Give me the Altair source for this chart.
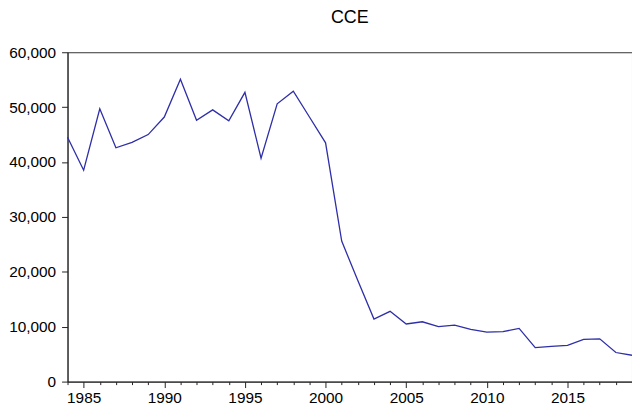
import altair as alt
import pandas as pd

years = list(range(1984, 2020))
cce = [44500, 38500, 49700, 42600, 43600, 45000, 48200, 55100, 47600, 49500,
       47500, 52700, 40700, 50600, 52900, 48200, 43500, 25600, 18400, 11400,
       12800, 10500, 10900, 10000, 10300, 9500, 9000, 9100, 9700, 6200,
       6400, 6600, 7700, 7800, 5300, 4800]

df = pd.DataFrame({"year": years, "cce": cce})

font = "Liberation Sans"

chart = alt.Chart(df).mark_line(color="#2e2ea8", strokeWidth=1.3).encode(
    x=alt.X("year:Q",
            scale=alt.Scale(domain=[1984, 2019], nice=False, zero=False),
            axis=alt.Axis(title=None, values=years, grid=False,
                          labelExpr="datum.value % 5 == 0 ? datum.value : ''",
                          tickSize={"condition": {"test": "datum.value % 5 == 0", "value": 6}, "value": 3},
                          labelFontSize=15.5, labelFont=font, labelColor="black",
                          domainColor="#222", tickColor="#222", labelPadding=3,
                          labelFlush=False, labelOverlap=False)),
    y=alt.Y("cce:Q",
            scale=alt.Scale(domain=[0, 60000], nice=False),
            axis=alt.Axis(title=None, values=[0, 10000, 20000, 30000, 40000, 50000, 60000],
                          format=",d", grid=False, tickSize=6, labelPadding=6,
                          labelFontSize=15.5, labelFont=font, labelColor="black",
                          domainColor="#222", tickColor="#222"))
).properties(
    width=569,
    height=332,
    title=alt.TitleParams("CCE", fontSize=18, font=font, fontWeight="normal",
                          color="black", offset=18, anchor="middle"),
    autosize=alt.AutoSizeParams(type="none"),
    padding={"left": 60, "top": 43, "right": 0, "bottom": 26},
).configure_view(stroke="#333", strokeWidth=1)

chart.save("out.html", embed_options={"renderer": "svg", "actions": False})
